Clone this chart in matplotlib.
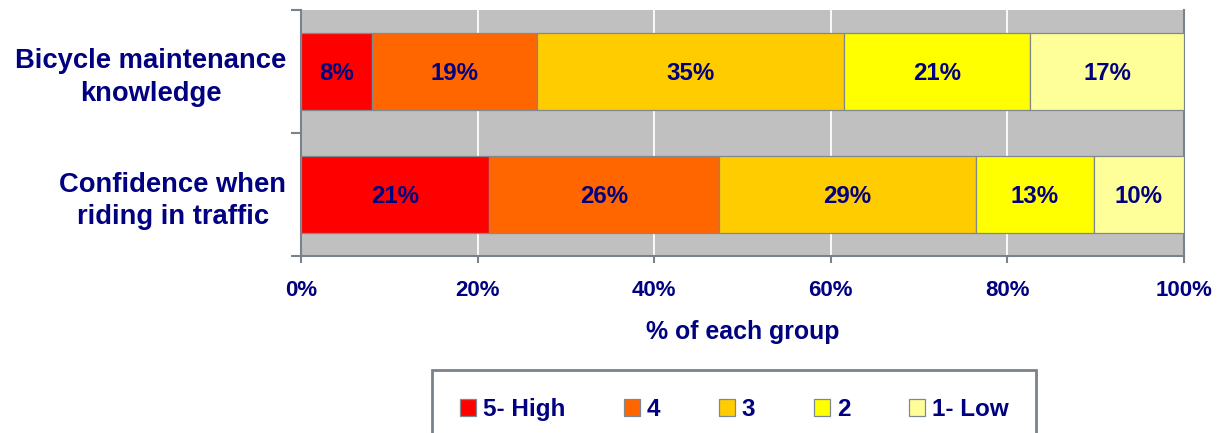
import matplotlib
matplotlib.use("Agg")
import matplotlib.pyplot as plt
from matplotlib.patches import Patch
import numpy as np

plt.rcParams["font.family"] = ["Liberation Sans", "DejaVu Sans"]
plt.rcParams["font.weight"] = "bold"

NAVY = "#000080"
AXIS_GREY = "#7a828c"

groups = ["Bicycle maintenance\nknowledge", "Confidence when\nriding in traffic"]
levels = ["5- High", "4", "3", "2", "1- Low"]
colors = ["#ff0000", "#ff6600", "#ffcc00", "#ffff00", "#ffff99"]

# share of each group (%) per rating level, in the order of `levels`
maintenance = [8.0, 18.7, 34.8, 21.1, 17.4]
confidence = [21.3, 26.0, 29.1, 13.4, 10.2]
shares = np.array([maintenance, confidence])

xticks = [0, 20, 40, 60, 80, 100]

fig = plt.figure(figsize=(12.17, 4.33), dpi=100)
ax = fig.add_axes([301 / 1217, 1 - 256 / 433, 883 / 1217, 246 / 433])
ax.set_facecolor("#c0c0c0")

ypos = np.arange(len(groups))
left = np.zeros(len(groups))
for j, lev in enumerate(levels):
    vals = shares[:, j]
    ax.barh(ypos, vals, left=left, height=0.62, color=colors[j],
            edgecolor="#808890", linewidth=0.9, zorder=3)
    for y, l, v in zip(ypos, left, vals):
        ax.text(l + v / 2, y + 0.02, f"{v:.0f}%", ha="center", va="center",
                fontsize=17.3, color=NAVY, fontweight="bold", zorder=4)
    left += vals

ax.set_xlim(0, 100)
ax.set_ylim(1.5, -0.5)

ax.set_xticks(xticks)
ax.set_xticklabels([f"{t}%" for t in xticks])
ax.tick_params(axis="x", direction="out", length=5, width=1.5, color=AXIS_GREY,
               labelsize=16, labelcolor=NAVY, pad=12)
ax.grid(axis="x", color="white", linewidth=1.3, zorder=1)

# category labels without tick marks, boundary ticks between categories
ax.set_yticks(ypos)
ax.set_yticklabels(groups, multialignment="center", linespacing=1.32)
ax.tick_params(axis="y", which="major", length=0, labelsize=19.7,
               labelcolor=NAVY, pad=10.5)
ax.set_yticks([-0.5, 0.5, 1.5], minor=True)
ax.tick_params(axis="y", which="minor", direction="out", length=7, width=1.5,
               color=AXIS_GREY)

for s in ("left", "bottom", "right"):
    ax.spines[s].set_color(AXIS_GREY)
    ax.spines[s].set_linewidth(1.5)
ax.spines["top"].set_visible(False)

ax.set_xlabel("% of each group", fontsize=17.9, color=NAVY, fontweight="bold",
              labelpad=14)

handles = [Patch(facecolor=c, edgecolor="#808890", linewidth=0.9) for c in colors]
leg = fig.legend(handles, levels, loc="upper left",
                 bbox_to_anchor=(432 / 1217, 1 - 370 / 433), ncol=5,
                 fontsize=17.5, frameon=True, fancybox=False, framealpha=1,
                 edgecolor=AXIS_GREY, handlelength=0.66, handleheight=0.66,
                 handletextpad=0.29, columnspacing=2.4, borderpad=1.15,
                 borderaxespad=0)
leg.get_frame().set_linewidth(2)
for t in leg.get_texts():
    t.set_color(NAVY)
    t.set_fontweight("bold")

fig.savefig("out.png", dpi=100)
